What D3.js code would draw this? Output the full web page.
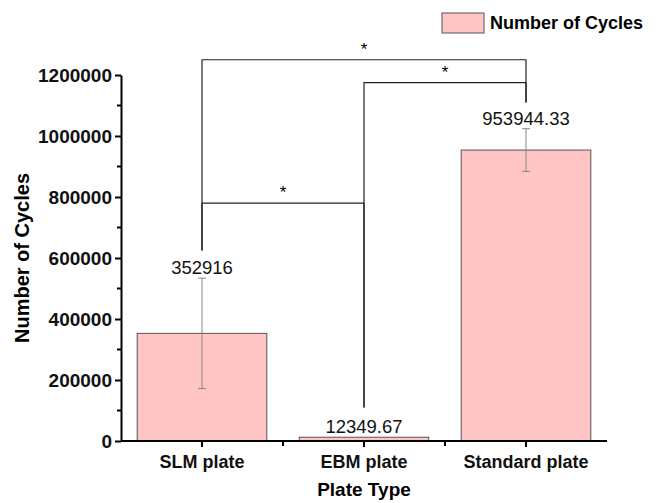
<!DOCTYPE html>
<html>
<head>
<meta charset="utf-8">
<script src="https://cdn.jsdelivr.net/npm/d3@7"></script>
<style>
  body { margin: 0; background: #fff; }
  text { font-family: "Liberation Sans", Arial, sans-serif; }
</style>
</head>
<body>
<svg id="chart" width="659" height="503"></svg>
<script>
// data
const categories = ["SLM plate", "EBM plate", "Standard plate"];
const means = [352916, 12349.67, 953944.33];
const meanLabels = ["352916", "12349.67", "953944.33"];
const errors = [181000, 0, 70000];
const yTicks = [0, 200000, 400000, 600000, 800000, 1000000, 1200000];

// significance brackets: from category, to category, bar height, leg ends
const bracketFrom = [0, 1, 0];
const bracketTo = [2, 2, 1];
const bracketLevel = [1250000, 1175000, 780000];
const bracketLeftEnd = [625000, 110000, 625000];
const bracketRightEnd = [1110000, 1110000, 110000];

const svg = d3.select("#chart");
const plotLeft = 121, plotRight = 607, plotTop = 75, plotBottom = 441;

const x = d3.scaleBand()
  .domain(categories)
  .range([plotLeft, plotRight])
  .paddingInner(0.2)
  .paddingOuter(0.1);

const y = d3.scaleLinear()
  .domain([0, 1200000])
  .range([plotBottom, plotTop]);

const cx = i => x(categories[i]) + x.bandwidth() / 2;

// bars
svg.selectAll(".bar")
  .data(means)
  .join("rect")
  .attr("class", "bar")
  .attr("x", (d, i) => x(categories[i]))
  .attr("y", d => y(d))
  .attr("width", x.bandwidth())
  .attr("height", d => plotBottom - y(d))
  .attr("fill", "#ffc4c4")
  .attr("stroke", "#555")
  .attr("stroke-width", 1);

// error bars
const eb = svg.append("g").attr("stroke", "#888").attr("stroke-width", 1);
means.forEach((m, i) => {
  if (!errors[i]) return;
  const c = cx(i);
  eb.append("line").attr("x1", c).attr("x2", c).attr("y1", y(m + errors[i])).attr("y2", y(m - errors[i]));
  eb.append("line").attr("x1", c - 4).attr("x2", c + 4).attr("y1", y(m + errors[i])).attr("y2", y(m + errors[i]));
  eb.append("line").attr("x1", c - 4).attr("x2", c + 4).attr("y1", y(m - errors[i])).attr("y2", y(m - errors[i]));
});

// value labels
svg.selectAll(".val")
  .data(meanLabels)
  .join("text")
  .attr("class", "val")
  .attr("x", (d, i) => cx(i))
  .attr("y", (d, i) => y(means[i] + errors[i]) - 4)
  .attr("text-anchor", "middle")
  .style("font-size", "18.5px")
  .attr("fill", "#111")
  .text(d => d);

// brackets
const br = svg.append("g").attr("stroke", "#222").attr("stroke-width", 1.2).attr("fill", "none");
bracketFrom.forEach((f, i) => {
  const x1 = cx(f), x2 = cx(bracketTo[i]);
  br.append("path")
    .attr("d", `M${x1},${y(bracketLeftEnd[i])}V${y(bracketLevel[i])}H${x2}V${y(bracketRightEnd[i])}`);
  svg.append("text")
    .attr("x", (x1 + x2) / 2)
    .attr("y", y(bracketLevel[i]) - 5)
    .attr("text-anchor", "middle")
    .style("font-size", "17px")
    .text("*");
});

// x axis
const xAxis = svg.append("g")
  .attr("transform", `translate(0,${plotBottom})`)
  .call(d3.axisBottom(x).tickSize(6).tickSizeOuter(0).tickPadding(8));
xAxis.select(".domain").attr("stroke-width", 2).attr("d", `M${plotLeft},0H${plotRight}`);
xAxis.selectAll(".tick line").attr("stroke-width", 2);
xAxis.selectAll("text").style("font-size", "18px").style("font-weight", "bold").attr("fill", "#111");
// minor ticks between categories
[1, 2].forEach(i => {
  const bx = x(categories[i]) - x.step() * x.paddingInner() / 2;
  xAxis.append("line").attr("x1", bx).attr("x2", bx).attr("y1", 0).attr("y2", 5)
    .attr("stroke", "#000").attr("stroke-width", 2);
});

// y axis
const yAxis = svg.append("g")
  .attr("transform", `translate(${plotLeft},0)`)
  .call(d3.axisLeft(y).tickValues(yTicks).tickFormat(d3.format("d")).tickSize(6).tickSizeOuter(0).tickPadding(3));
yAxis.select(".domain").attr("stroke-width", 2);
yAxis.selectAll(".tick line").attr("stroke-width", 2);
yAxis.selectAll("text").style("font-size", "19px").style("font-weight", "bold").attr("fill", "#111");
d3.range(100000, 1200000, 200000).forEach(v => {
  yAxis.append("line").attr("x1", 0).attr("x2", -4).attr("y1", y(v)).attr("y2", y(v))
    .attr("stroke", "#000").attr("stroke-width", 2);
});

// axis titles
svg.append("text")
  .attr("x", (plotLeft + plotRight) / 2)
  .attr("y", 496)
  .attr("text-anchor", "middle")
  .style("font-size", "19px")
  .style("font-weight", "bold")
  .text("Plate Type");

svg.append("text")
  .attr("transform", `translate(29,${(plotTop + plotBottom) / 2}) rotate(-90)`)
  .attr("text-anchor", "middle")
  .style("font-size", "20px")
  .style("font-weight", "bold")
  .text("Number of Cycles");

// legend
const legend = svg.append("g").attr("transform", "translate(442,13)");
legend.append("rect")
  .attr("width", 42).attr("height", 20)
  .attr("fill", "#ffc4c4").attr("stroke", "#555").attr("stroke-width", 1);
legend.append("text")
  .attr("x", 48).attr("y", 16)
  .style("font-size", "18px")
  .style("font-weight", "bold")
  .text("Number of Cycles");
</script>
</body>
</html>
